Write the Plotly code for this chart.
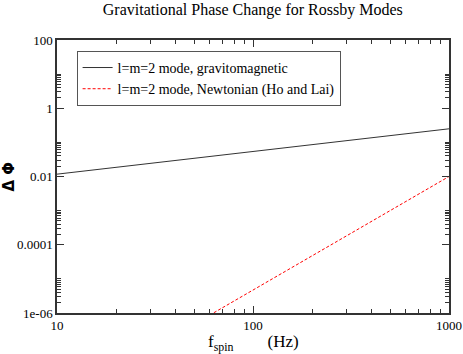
import plotly.graph_objects as go

# data
f_spin = [10, 1000]
phase_gm = [0.0117, 0.25]
f_newt = [60, 1000]
phase_newt = [8.6e-7, 0.01]

y_ticks = [1e-6, 1e-4, 1e-2, 1, 100]
y_labels = ["1e-06", "0.0001", "0.01", "1", "100"]
x_ticks = [10, 100, 1000]
x_labels = ["10", "100", "1000"]

serif = "Liberation Serif, Times New Roman, serif"

y_minor = [k * 10.0 ** e for e in (-6, -4, -2, 0) for k in range(2, 11)]
x_minor = [k * 10.0 ** e for e in (1, 2) for k in range(2, 10)]

fig = go.Figure()
fig.add_trace(go.Scatter(
    x=f_spin, y=phase_gm, mode="lines",
    line=dict(color="#333333", width=1),
    name="l=m=2 mode, gravitomagnetic",
))
fig.add_trace(go.Scatter(
    x=f_newt, y=phase_newt, mode="lines",
    line=dict(color="#ff0000", width=1, dash="3px,2px"),
    name="l=m=2 mode, Newtonian (Ho and Lai)",
))

axis_common = dict(
    showgrid=False, zeroline=False, showline=True, linecolor="#333333",
    linewidth=1.5, mirror="allticks", ticks="inside", ticklen=7,
    tickcolor="#333333", tickfont=dict(family=serif, size=13, color="black"),
    automargin=False,
)

fig.update_xaxes(
    type="log", range=[1, 3], tickmode="array", tickvals=x_ticks, ticktext=x_labels,
    minor=dict(tickmode="array", tickvals=x_minor, ticks="inside", ticklen=4,
               tickcolor="#333333"),
    **axis_common,
)
fig.update_yaxes(
    type="log", range=[-6, 2], tickmode="array", tickvals=y_ticks, ticktext=y_labels,
    minor=dict(tickmode="array", tickvals=y_minor, ticks="inside", ticklen=4,
               tickcolor="#333333"),
    **axis_common,
)

# axis titles as annotations so they don't move the plot area
fig.add_annotation(
    text="<b>Δ Φ</b>", textangle=-90, xref="paper", yref="paper",
    x=-0.125, y=0.5, xanchor="center", yanchor="middle", showarrow=False,
    font=dict(family="DejaVu Sans, sans-serif", size=15, color="black"),
)
fig.add_annotation(
    text="f<sub>spin</sub>        (Hz)", xref="paper", yref="paper",
    x=0.5, y=-0.062, xanchor="center", yanchor="top", showarrow=False,
    font=dict(family=serif, size=17, color="black"),
)

fig.update_layout(
    width=463, height=354,
    margin=dict(l=57, r=14, t=40, b=41),
    paper_bgcolor="white", plot_bgcolor="white",
    title=dict(text="Gravitational Phase Change for Rossby Modes",
               font=dict(family=serif, size=16, color="black"),
               x=0.546, xanchor="center", y=0.973, yanchor="middle"),
    legend=dict(x=0.05, y=0.96, xanchor="left", yanchor="top",
                bordercolor="#555555", borderwidth=1, bgcolor="white",
                font=dict(family=serif, size=14, color="black"),
                tracegroupgap=0, itemwidth=30),
    showlegend=True,
)

# drop the default page margin so the figure sits at the window's corner
fig.write_html("out.html", config={"displayModeBar": False},
               post_script="document.body.style.margin='0';")
